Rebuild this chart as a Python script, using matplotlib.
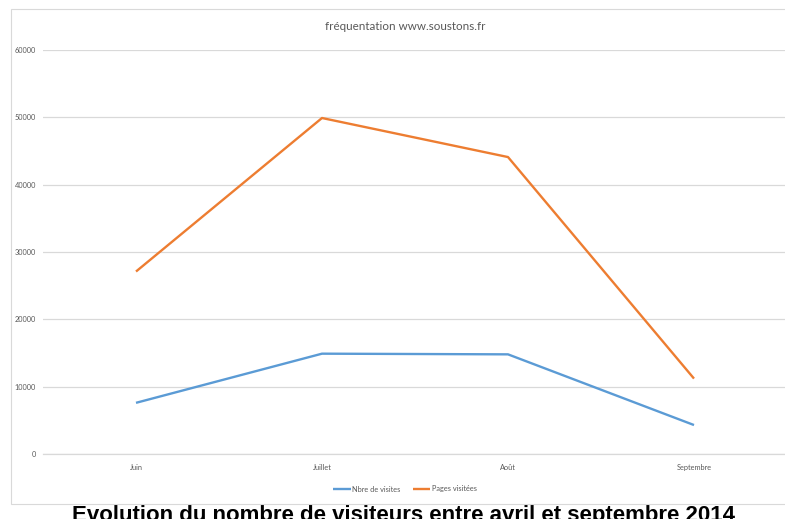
import matplotlib
matplotlib.use("Agg")
import matplotlib.pyplot as plt
from matplotlib.patches import Rectangle

# --- Data ---
mois = ["Juin", "Juillet", "Août", "Septembre"]
nbre_visites = [7600, 14900, 14800, 4300]
pages_visitees = [27100, 49900, 44100, 11200]
y_ticks = [0, 10000, 20000, 30000, 40000, 50000, 60000]

BLUE = "#5B9BD5"
ORANGE = "#ED7D31"
GRID = "#d9d9d9"
TXT = "#595959"

# Lato is the nearest thing to Calibri we have here
plt.rcParams["font.family"] = ["Lato", "DejaVu Sans"]

W, H = 785, 519
fig = plt.figure(figsize=(W / 100, H / 100), dpi=100)

def px(x, y):
    # pixel (from top-left) -> figure fraction
    return x / W, 1 - y / H

# caption below the chart, its top hidden by the chart box
cx, cy = px(404, 520.5)
fig.text(cx, cy, "Évolution du nombre de visiteurs entre avril et septembre 2014",
         ha="center", va="baseline", fontsize=16, fontweight="bold",
         family=["Liberation Sans", "DejaVu Sans"], color="black", zorder=0.5)

# chart box
bx, by = px(11, 503.5)
fig.patches.append(Rectangle((bx, by), 1.2, (503.5 - 9) / H, transform=fig.transFigure,
                             facecolor="white", edgecolor=GRID, linewidth=0.8, zorder=0.8))

left, bottom = px(43, 454)
ax = fig.add_axes([left, bottom, 744 / W, 404 / H], zorder=2)
ax.set_facecolor("none")

x = range(len(mois))
ax.plot(x, nbre_visites, color=BLUE, lw=1.7, label="Nbre de visites", solid_capstyle="butt")
ax.plot(x, pages_visitees, color=ORANGE, lw=1.7, label="Pages visitées", solid_capstyle="butt")

ax.set_xlim(-0.5, len(mois) - 0.5)
ax.set_ylim(0, 60000)
ax.set_yticks(y_ticks)
ax.set_yticklabels([str(v) for v in y_ticks])
ax.set_xticks(list(x))
ax.set_xticklabels(mois)
ax.grid(axis="y", color=GRID, lw=0.9)
ax.set_axisbelow(True)
for s in ["top", "right", "left"]:
    ax.spines[s].set_visible(False)
ax.spines["bottom"].set_color(GRID)
ax.spines["bottom"].set_linewidth(0.9)
ax.tick_params(axis="both", length=0, labelsize=5.3, labelcolor=TXT)
ax.tick_params(axis="x", pad=7.5)
ax.tick_params(axis="y", pad=5)

tx, ty = px(405, 27)
fig.text(tx, ty, "fréquentation www.soustons.fr", ha="center", va="center",
         fontsize=8.4, color=TXT, zorder=3)

lx, ly = px(405, 489)
ax.legend(loc="center", bbox_to_anchor=(lx, ly), bbox_transform=fig.transFigure,
          ncol=2, frameon=False, fontsize=5.3, labelcolor=TXT, handlelength=2.4,
          handletextpad=0.2, columnspacing=1.6)

fig.savefig("out.png", dpi=100)
